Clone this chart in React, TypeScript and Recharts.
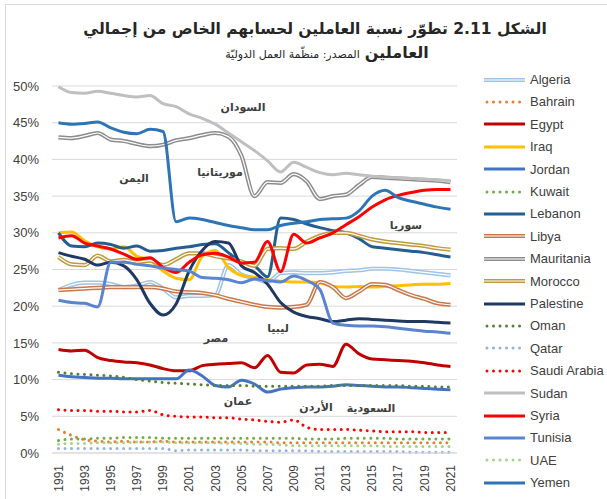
import { LineChart, Line, XAxis, YAxis, CartesianGrid } from "recharts";

// years on the category axis
const years = [
  "1991", "1992", "1993", "1994", "1995", "1996", "1997", "1998", "1999", "2000",
  "2001", "2002", "2003", "2004", "2005", "2006", "2007", "2008", "2009", "2010",
  "2011", "2012", "2013", "2014", "2015", "2016", "2017", "2018", "2019", "2020", "2021",
];

// share of own-account workers, % of total employment
const algeria = [22.2, 22.9, 23.2, 23.2, 23.0, 22.6, 22.8, 23.3, 22.4, 21.2, 21.4, 21.4, 21.5, 25.6, 24.3, 23.8, 23.3, 24.5, 24.6, 24.5, 24.5, 24.6, 24.8, 24.9, 25.1, 25.1, 25.0, 24.8, 24.6, 24.4, 24.2];
const bahrain = [3.2, 2.4, 1.8, 1.6, 1.5, 1.6, 1.5, 1.5, 1.6, 1.5, 1.5, 1.5, 1.5, 1.5, 1.5, 1.5, 1.5, 1.4, 1.4, 1.4, 1.4, 1.4, 1.4, 1.4, 1.4, 1.4, 1.4, 1.4, 1.4, 1.4, 1.4];
const egypt = [14.1, 13.9, 14.0, 13.0, 12.6, 12.4, 12.3, 12.0, 11.5, 11.2, 11.2, 11.9, 12.1, 12.2, 12.3, 11.6, 13.3, 11.0, 10.9, 12.0, 12.1, 11.8, 14.8, 13.5, 12.8, 12.7, 12.6, 12.5, 12.3, 12.0, 11.8];
const iraq = [30.0, 30.1, 28.9, 28.1, 27.8, 28.1, 26.8, 26.3, 24.8, 23.8, 23.6, 26.8, 27.6, 25.3, 24.2, 23.9, 23.6, 23.4, 23.3, 23.3, 23.2, 22.7, 22.6, 22.7, 22.6, 22.7, 22.8, 22.9, 23.0, 23.0, 23.1];
const jordan = [10.6, 10.4, 10.3, 10.2, 10.2, 10.1, 10.1, 10.1, 10.1, 10.1, 11.3, 10.5, 9.2, 9.0, 9.9, 9.4, 8.3, 8.7, 8.9, 9.0, 9.0, 9.1, 9.3, 9.2, 9.1, 9.0, 9.0, 8.9, 8.8, 8.7, 8.6];
const kuwait = [1.7, 1.9, 1.9, 2.0, 2.0, 2.1, 2.1, 2.1, 2.0, 2.0, 2.0, 2.0, 2.0, 2.0, 2.0, 2.0, 2.0, 2.0, 2.0, 1.9, 1.9, 1.9, 2.0, 2.0, 2.0, 2.0, 1.9, 1.9, 1.9, 1.9, 1.9];
const lebanon = [30.0, 28.2, 28.1, 28.6, 28.4, 27.9, 28.2, 27.5, 27.6, 27.9, 28.1, 28.4, 28.5, 27.3, 26.0, 25.5, 24.0, 32.0, 31.8, 31.2, 30.7, 30.3, 30.0, 29.2, 28.1, 27.9, 27.7, 27.5, 27.3, 27.0, 26.7];
const libya = [22.2, 22.3, 22.4, 22.5, 22.6, 22.6, 22.6, 22.6, 22.4, 22.0, 21.9, 21.8, 21.5, 21.0, 20.6, 20.2, 19.9, 19.8, 19.9, 20.2, 23.3, 22.6, 21.1, 22.0, 23.0, 22.9, 22.2, 21.5, 21.0, 20.4, 20.2];
const mauritania = [43.0, 42.9, 43.2, 43.6, 42.7, 42.5, 42.1, 41.8, 42.0, 42.6, 42.9, 43.3, 43.6, 43.1, 40.5, 35.0, 36.9, 36.8, 38.0, 37.0, 34.6, 35.0, 35.2, 36.5, 37.6, 37.5, 37.4, 37.3, 37.2, 37.1, 36.9];
const morocco = [26.7, 25.7, 25.6, 26.9, 26.1, 26.3, 26.0, 26.2, 25.6, 26.4, 27.2, 27.2, 26.8, 26.5, 26.1, 25.5, 27.8, 27.9, 27.8, 28.8, 29.6, 30.0, 30.0, 29.6, 29.1, 28.8, 28.6, 28.4, 28.2, 27.9, 27.7];
const palestine = [27.3, 26.8, 26.4, 25.6, 26.0, 25.5, 23.6, 20.4, 18.8, 20.3, 24.8, 27.6, 28.8, 28.6, 25.5, 24.6, 23.0, 20.5, 19.2, 18.6, 18.3, 17.9, 18.1, 18.3, 18.2, 18.1, 18.0, 17.9, 17.9, 17.8, 17.7];
const oman = [11.0, 10.8, 10.7, 10.6, 10.5, 10.3, 10.0, 9.8, 9.6, 9.5, 9.4, 9.3, 9.2, 9.2, 9.2, 9.1, 9.1, 9.1, 9.1, 9.1, 9.1, 9.2, 9.2, 9.2, 9.2, 9.2, 9.2, 9.1, 9.1, 9.0, 9.0];
const qatar = [0.6, 0.6, 0.6, 0.6, 0.6, 0.6, 0.6, 0.6, 0.6, 0.3, 0.4, 0.4, 0.4, 0.4, 0.4, 0.3, 0.3, 0.3, 0.3, 0.3, 0.2, 0.2, 0.2, 0.2, 0.2, 0.2, 0.2, 0.1, 0.1, 0.1, 0.1];
const saudiArabia = [5.9, 5.8, 5.8, 5.7, 5.7, 5.6, 5.6, 5.8, 5.2, 5.0, 4.9, 4.9, 4.8, 4.8, 4.6, 4.5, 4.3, 4.2, 4.5, 3.5, 3.2, 3.2, 3.2, 3.1, 3.0, 2.9, 2.9, 2.9, 2.8, 2.8, 2.8];
const sudan = [49.9, 49.1, 49.0, 49.3, 49.0, 48.7, 48.5, 48.7, 47.6, 47.2, 46.2, 45.6, 44.8, 43.6, 42.4, 41.2, 39.8, 38.3, 39.6, 38.9, 38.2, 37.9, 38.1, 37.9, 37.7, 37.6, 37.5, 37.4, 37.3, 37.2, 37.1];
const syria = [29.3, 29.6, 28.6, 28.2, 27.8, 27.1, 26.4, 26.6, 25.3, 24.6, 26.0, 27.0, 27.2, 26.7, 25.9, 26.0, 28.8, 24.7, 29.8, 28.6, 29.3, 30.0, 31.1, 32.2, 33.5, 34.5, 35.1, 35.5, 35.8, 35.9, 35.9];
const tunisia = [20.8, 20.5, 20.4, 19.9, 26.0, 26.0, 25.7, 25.5, 25.2, 25.0, 24.8, 23.9, 23.8, 23.6, 23.2, 23.7, 23.5, 23.3, 24.1, 23.5, 22.3, 17.7, 17.4, 17.3, 17.3, 17.2, 17.0, 16.8, 16.6, 16.5, 16.3];
const uae = [1.2, 1.3, 1.3, 1.4, 1.4, 1.4, 1.5, 1.5, 1.5, 1.4, 1.4, 1.4, 1.4, 1.3, 1.3, 1.2, 1.2, 1.1, 1.0, 1.0, 1.0, 1.0, 1.0, 1.0, 1.0, 0.9, 0.9, 0.9, 0.9, 0.9, 0.9];
const yemen = [45.0, 44.8, 44.9, 45.1, 44.3, 43.7, 43.5, 44.1, 43.8, 31.5, 32.0, 31.8, 31.4, 31.0, 30.7, 30.4, 30.4, 31.0, 31.3, 31.5, 31.8, 31.9, 32.0, 33.0, 35.0, 35.8, 34.8, 34.3, 33.9, 33.5, 33.2];

const yTicks = [0, 5, 10, 15, 20, 25, 30, 35, 40, 45, 50];

type Kind = "solid" | "dotted" | "double";
type Series = { key: string; name: string; values: number[]; color: string; kind: Kind };

const series: Series[] = [
  { key: "algeria", name: "Algeria", values: algeria, color: "#9dc3e6", kind: "double" },
  { key: "bahrain", name: "Bahrain", values: bahrain, color: "#ed7d31", kind: "dotted" },
  { key: "egypt", name: "Egypt", values: egypt, color: "#c00000", kind: "solid" },
  { key: "iraq", name: "Iraq", values: iraq, color: "#ffc000", kind: "solid" },
  { key: "jordan", name: "Jordan", values: jordan, color: "#4472c4", kind: "solid" },
  { key: "kuwait", name: "Kuwait", values: kuwait, color: "#70ad47", kind: "dotted" },
  { key: "lebanon", name: "Lebanon", values: lebanon, color: "#255e91", kind: "solid" },
  { key: "libya", name: "Libya", values: libya, color: "#c8784a", kind: "double" },
  { key: "mauritania", name: "Mauritania", values: mauritania, color: "#8c8c8c", kind: "double" },
  { key: "morocco", name: "Morocco", values: morocco, color: "#bf9a3a", kind: "double" },
  { key: "palestine", name: "Palestine", values: palestine, color: "#203864", kind: "solid" },
  { key: "oman", name: "Oman", values: oman, color: "#548235", kind: "dotted" },
  { key: "qatar", name: "Qatar", values: qatar, color: "#8fb4e3", kind: "dotted" },
  { key: "saudiArabia", name: "Saudi Arabia", values: saudiArabia, color: "#ff0000", kind: "dotted" },
  { key: "sudan", name: "Sudan", values: sudan, color: "#bfbfbf", kind: "solid" },
  { key: "syria", name: "Syria", values: syria, color: "#ff0000", kind: "solid" },
  { key: "tunisia", name: "Tunisia", values: tunisia, color: "#5b84d0", kind: "solid" },
  { key: "uae", name: "UAE", values: uae, color: "#a9d18e", kind: "dotted" },
  { key: "yemen", name: "Yemen", values: yemen, color: "#2e75b6", kind: "solid" },
];

// arabic labels written inside the plot
const notes = [
  { text: "السودان", x: 243, y: 107 },
  { text: "اليمن", x: 134, y: 178 },
  { text: "موريتانيا", x: 220, y: 172 },
  { text: "سوريا", x: 406, y: 225 },
  { text: "ليبيا", x: 278, y: 328 },
  { text: "مصر", x: 216, y: 338 },
  { text: "عمان", x: 238, y: 401 },
  { text: "الأردن", x: 316, y: 407 },
  { text: "السعودية", x: 371, y: 408 },
];

const data = years.map((year, i) => {
  const row: Record<string, string | number> = { year };
  series.forEach((s) => {
    row[s.key] = s.values[i];
  });
  return row;
});

const latin = "'Liberation Sans', Arial, sans-serif";
const arabic = "'DejaVu Sans', sans-serif";

function YearTick({ x, y, payload }: any) {
  return (
    <g transform={`translate(${x},${y + 4})`}>
      <text
        transform="rotate(-90)"
        textAnchor="end"
        dy="0.35em"
        fontSize={12}
        fontFamily={latin}
        fill="#404040"
      >
        {payload.value}
      </text>
    </g>
  );
}

function renderLines(s: Series) {
  const common = {
    type: "monotone" as const,
    dataKey: s.key,
    dot: false,
    activeDot: false,
    isAnimationActive: false,
  };
  if (s.kind === "dotted") {
    return [
      <Line
        key={s.key}
        {...common}
        stroke={s.color}
        strokeWidth={3}
        strokeDasharray="0.01 6.5"
        strokeLinecap="round"
      />,
    ];
  }
  if (s.kind === "double") {
    return [
      <Line key={s.key} {...common} stroke={s.color} strokeWidth={4.2} />,
      <Line key={s.key + "-in"} {...common} stroke="#ffffff" strokeWidth={1.2} />,
    ];
  }
  return [<Line key={s.key} {...common} stroke={s.color} strokeWidth={3} />];
}

function LegendSample({ s }: { s: Series }) {
  if (s.kind === "dotted") {
    return (
      <svg width={42} height={8}>
        <line x1={3} y1={4} x2={40} y2={4} stroke={s.color} strokeWidth={3}
          strokeDasharray="0.01 6.5" strokeLinecap="round" />
      </svg>
    );
  }
  return (
    <svg width={42} height={8}>
      <line x1={0} y1={4} x2={41} y2={4} stroke={s.color} strokeWidth={s.kind === "double" ? 4.2 : 3} />
      {s.kind === "double" && (
        <line x1={0} y1={4} x2={41} y2={4} stroke="#ffffff" strokeWidth={1.2} />
      )}
    </svg>
  );
}

export default function App() {
  return (
    <div
      style={{
        position: "absolute",
        left: 0,
        top: 0,
        width: 607,
        height: 499,
        overflow: "hidden",
        background: "#ffffff",
      }}
    >
      <div
        style={{
          position: "absolute",
          left: 5,
          top: 4,
          width: 620,
          height: 520,
          border: "1px solid #d9d9d9",
        }}
      />

      <div
        dir="rtl"
        style={{
          position: "absolute",
          left: 0,
          top: 20,
          width: 630,
          textAlign: "center",
          fontFamily: arabic,
          fontWeight: "bold",
          fontSize: 15.5,
          color: "#262626",
          whiteSpace: "nowrap",
        }}
      >
        الشكل 2.11 تطوّر نسبة العاملين لحسابهم الخاص من إجمالي
      </div>
      <div
        dir="rtl"
        style={{
          position: "absolute",
          left: 0,
          top: 43,
          width: 654,
          textAlign: "center",
          fontFamily: arabic,
          color: "#262626",
          whiteSpace: "nowrap",
        }}
      >
        <span style={{ fontWeight: "bold", fontSize: 16 }}>العاملين</span>{" "}
        <span style={{ fontSize: 11 }}>المصدر: منظّمة العمل الدوليّة</span>
      </div>

      <div style={{ position: "absolute", left: 0, top: 0 }}>
        <LineChart
          width={470}
          height={499}
          data={data}
          margin={{ top: 86, right: 13, bottom: 0, left: 0 }}
        >
          <CartesianGrid vertical={false} stroke="#d9d9d9" />
          <XAxis
            dataKey="year"
            interval={1}
            height={46}
            tick={<YearTick />}
            tickLine={false}
            axisLine={{ stroke: "#d9d9d9" }}
            padding={{ left: 6.5, right: 6.5 }}
          />
          <YAxis
            width={52}
            domain={[0, 50]}
            ticks={yTicks}
            tickFormatter={(v: number) => `${v}%`}
            tick={{ fontSize: 13, fill: "#404040", fontFamily: latin }}
            tickMargin={7}
            axisLine={false}
            tickLine={false}
          />
          {series.flatMap((s) => renderLines(s))}
        </LineChart>
      </div>

      {notes.map((n) => (
        <div
          key={n.text}
          dir="rtl"
          style={{
            position: "absolute",
            left: n.x,
            top: n.y,
            transform: "translate(-50%, -50%)",
            fontFamily: arabic,
            fontWeight: "bold",
            fontSize: 11,
            color: "#404040",
            whiteSpace: "nowrap",
          }}
        >
          {n.text}
        </div>
      ))}

      {series.map((s, i) => (
        <div
          key={s.key}
          style={{
            position: "absolute",
            left: 484,
            top: 79.5 + i * 22.4 - 9,
            height: 18,
            display: "flex",
            alignItems: "center",
            fontFamily: latin,
            fontSize: 13,
            color: "#404040",
            whiteSpace: "nowrap",
          }}
        >
          <LegendSample s={s} />
          <span style={{ marginLeft: 4 }}>{s.name}</span>
        </div>
      ))}
    </div>
  );
}
